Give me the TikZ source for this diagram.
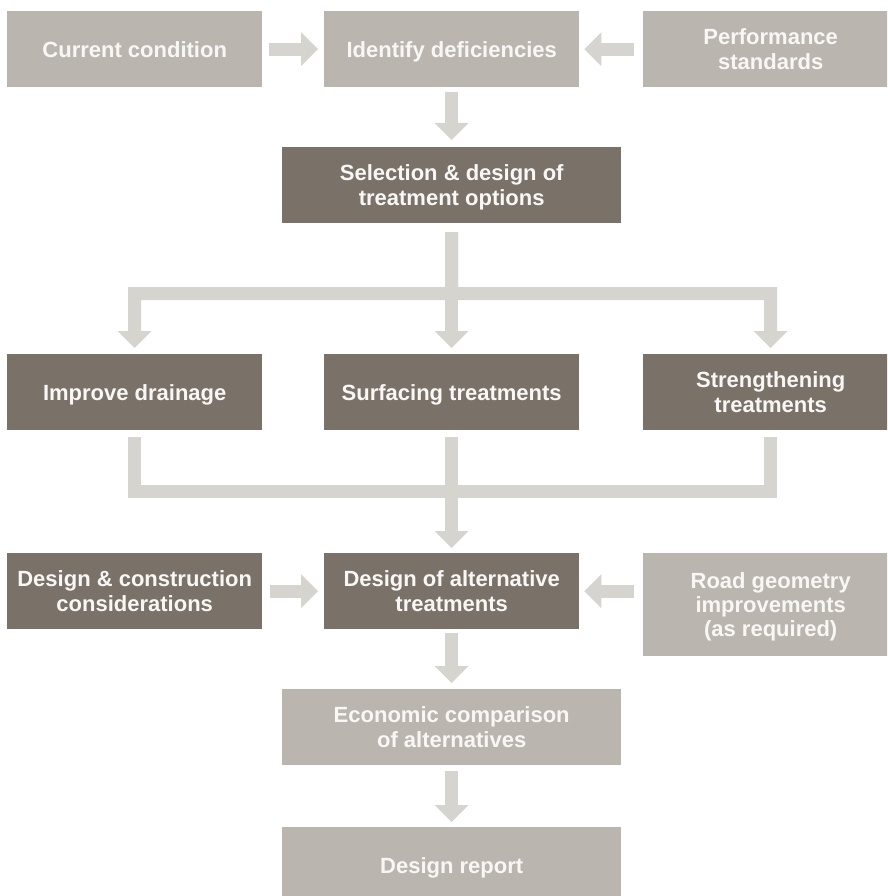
\documentclass[tikz,border=0pt]{standalone}
\usepackage{fontspec}
\setmainfont{Liberation Sans}
\usetikzlibrary{arrows.meta,calc}

\definecolor{boxlight}{HTML}{BBB5AF}
\definecolor{boxdark}{HTML}{7A7268}
\definecolor{flow}{HTML}{D5D4CF}
\definecolor{label}{HTML}{F8F7F5}

\tikzset{
  box/.style={anchor=north west, inner sep=0pt, minimum width=255pt,
    minimum height=76pt, align=center, text=label, text depth=0pt,
    font=\fontsize{22}{25}\selectfont\bfseries},
  lightbox/.style={box, fill=boxlight},
  darkbox/.style={box, fill=boxdark},
  wide/.style={minimum width=339pt},
  flowline/.style={draw=flow, line width=13pt, line join=miter},
  flowarrow/.style={flowline,
    -{Triangle[width=34pt,length=17pt,line width=0pt]}},
}

\begin{document}
\begin{tikzpicture}[x=1pt, y=-1pt]
  \useasboundingbox (0,0) rectangle (887,896);
  \clip (0,0) rectangle (887,896);
  \fill[white] (0,0) rectangle (887,896);

  % top row
  \node[lightbox] (cur) at (7,11) {Current condition};
  \node[lightbox] (ide) at (324,11) {Identify deficiencies};
  \node[lightbox] (per) at (643,11) {Performance\\standards};

  \node[darkbox, wide] (sel) at (282,147) {Selection \& design of\\treatment options};

  % treatment options
  \node[darkbox] (drn) at (7,354) {Improve drainage};
  \node[darkbox] (sur) at (324,354) {Surfacing treatments};
  \node[darkbox] (str) at (643,354) {Strengthening\\treatments};

  % alternatives
  \node[darkbox] (dcc) at (7,553) {Design \& construction\\considerations};
  \node[darkbox] (alt) at (324,553) {Design of alternative\\treatments};
  \node[lightbox, minimum height=103pt,
        font=\fontsize{22}{24}\selectfont\bfseries] (road) at (643,553)
        {Road geometry\\improvements\\(as required)};

  \node[lightbox, wide] (eco) at (282,689) {Economic comparison\\of alternatives};
  \node[lightbox, wide] (rep) at (282,827) {Design report};

  % connectors
  \draw[flowarrow] ([xshift=7pt]cur.east) -- ([xshift=-6pt]ide.west);
  \draw[flowarrow] ([xshift=-9pt]per.west) -- ([xshift=5pt]ide.east);
  \draw[flowarrow] ([yshift=-5pt]ide.south) -- ([yshift=7pt]sel.north);

  \coordinate (split) at (451.5,293.5);
  \draw[flowarrow] ([yshift=-9pt]sel.south) -- (split) -| ([yshift=6pt]drn.north);
  \draw[flowarrow] ([yshift=-9pt]sel.south) -- (split) -| ([yshift=6pt]str.north);
  \draw[flowarrow] ([yshift=-9pt]sel.south) -- ([yshift=6pt]sur.north);

  \coordinate (merge) at (451.5,491.5);
  \draw[flowline] ([yshift=-7pt]drn.south) |- (merge);
  \draw[flowline] ([yshift=-7pt]str.south) |- (merge);
  \draw[flowarrow] ([yshift=-7pt]sur.south) -- ([yshift=5pt]alt.north);

  \draw[flowarrow] ([xshift=8pt]dcc.east) -- ([xshift=-6pt]alt.west);
  \draw[flowarrow] ($(road.west |- alt.east)+(-9,0)$) -- ([xshift=5pt]alt.east);
  \draw[flowarrow] ([yshift=-4pt]alt.south) -- ([yshift=6pt]eco.north);
  \draw[flowarrow] ([yshift=-6pt]eco.south) -- ([yshift=5pt]rep.north);
\end{tikzpicture}
\end{document}
